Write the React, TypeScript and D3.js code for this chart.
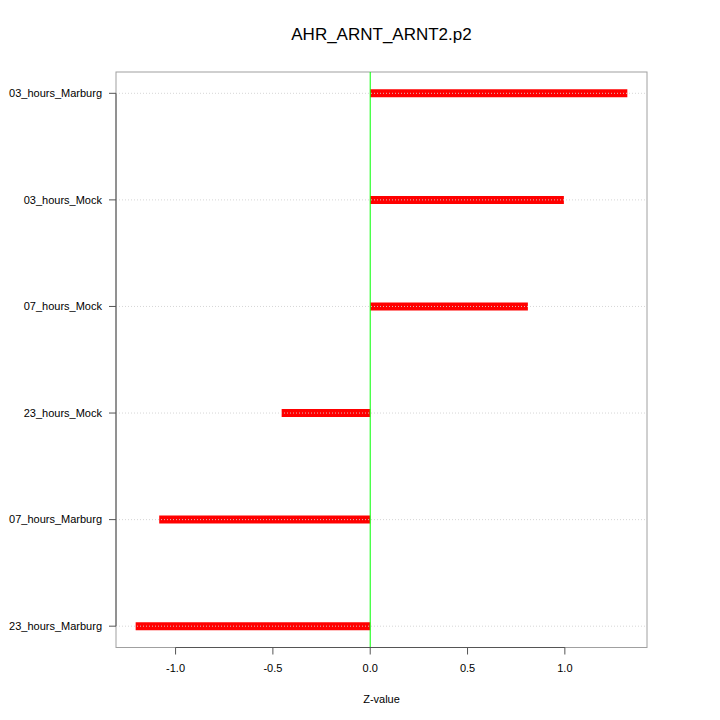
import React from 'react';
import * as d3 from 'd3';

const categories = ['23_hours_Marburg', '07_hours_Marburg', '23_hours_Mock', '07_hours_Mock', '03_hours_Mock', '03_hours_Marburg'];
const zValues = [-1.205, -1.084, -0.455, 0.81, 0.995, 1.321];
const xTicks = [-1.0, -0.5, 0.0, 0.5, 1.0];

const W = 720;
const H = 720;
const left = 116;
const right = 647;
const top = 72;
const bottom = 647.5;

const App = () => {
  // R-style 4% padding around data range
  const lo = d3.min(zValues) as number;
  const hi = d3.max(zValues) as number;
  const pad = (hi - lo) * 0.04;
  const x = d3.scaleLinear().domain([lo - pad, hi + pad]).range([left, right]);
  const y = d3.scaleLinear().domain([1 - 0.2, categories.length + 0.2]).range([bottom, top]);
  const font = 'Liberation Sans, Arial, sans-serif';

  return (
    <svg width={W} height={H} style={{ position: 'absolute', left: 0, top: 0, background: '#fff' }}>
      <rect x={0} y={0} width={W} height={H} fill="#fff" />
      {/* frame */}
      <rect x={left} y={top} width={right - left} height={bottom - top} fill="none" stroke="#a0a0a0" strokeWidth={1} />
      {/* bars */}
      {zValues.map((v, i) => (
        <line key={'b' + i} x1={x(0)} x2={x(v)} y1={y(i + 1)} y2={y(i + 1)} stroke="#ff0000" strokeWidth={8} />
      ))}
      {/* grid lines */}
      {categories.map((c, i) => (
        <line key={'g' + i} x1={left} x2={right} y1={y(i + 1)} y2={y(i + 1)} stroke="#d3d3d3" strokeWidth={1} strokeDasharray="1,2" opacity={0.9} />
      ))}
      {/* zero line */}
      <line x1={x(0)} x2={x(0)} y1={top} y2={bottom} stroke="#00ff00" strokeWidth={1} />
      {/* left axis */}
      <line x1={left} x2={left} y1={y(1)} y2={y(categories.length)} stroke="#555" strokeWidth={1} />
      {categories.map((c, i) => (
        <g key={'y' + i}>
          <line x1={left - 7} x2={left} y1={y(i + 1)} y2={y(i + 1)} stroke="#555" />
          <text x={left - 14} y={y(i + 1)} dy="0.35em" textAnchor="end" fontSize={11} fontFamily={font} fill="#000">{c}</text>
        </g>
      ))}
      {/* bottom axis */}
      <line x1={x(xTicks[0])} x2={x(xTicks[xTicks.length - 1])} y1={bottom} y2={bottom} stroke="#555" strokeWidth={1} />
      {xTicks.map((t, i) => (
        <g key={'x' + i}>
          <line x1={x(t)} x2={x(t)} y1={bottom} y2={bottom + 7} stroke="#555" />
          <text x={x(t)} y={bottom + 24} textAnchor="middle" fontSize={11} fontFamily={font} fill="#000">{t.toFixed(1)}</text>
        </g>
      ))}
      <text x={(left + right) / 2} y={703} textAnchor="middle" fontSize={11} fontFamily={font} fill="#000">Z-value</text>
      <text x={(left + right) / 2} y={40} textAnchor="middle" fontSize={17} fontFamily={font} fill="#000">AHR_ARNT_ARNT2.p2</text>
    </svg>
  );
};

export default App;
